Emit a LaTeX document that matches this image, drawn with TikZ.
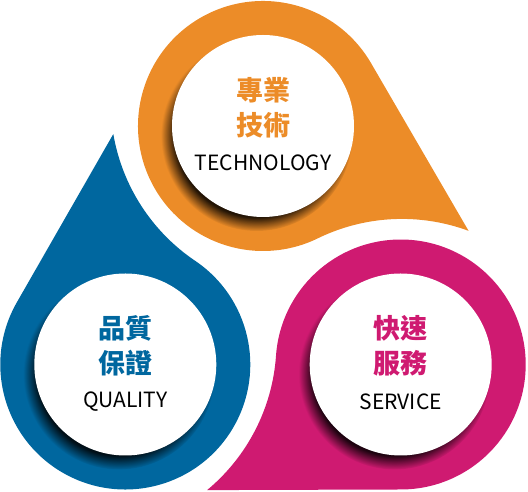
\documentclass[tikz,border=0pt]{standalone}
\usepackage{fontspec}
\setmainfont{Noto Sans CJK TC}
\usepackage{tikz}
\usetikzlibrary{shadows,fadings}
\definecolor{techorange}{HTML}{EC8C28}
\definecolor{qualblue}{HTML}{00679F}
\definecolor{servpink}{HTML}{CF1A71}
\tikzstyle{disc} = [circle, fill=white, minimum size=182pt, inner sep=0pt]
\tikzstyle{zh} = [font=\fontsize{27}{27}\selectfont\bfseries, inner sep=0pt]
\tikzstyle{en} = [font=\fontsize{21}{21}\selectfont, inner sep=0pt]
\tikzset{
  shade/.style ={circular drop shadow={shadow xshift=-6pt, shadow yshift=-9pt,
    shadow scale=1.05, fill=black, opacity=.85}}
}
\newcommand{\drop}[3]{%
  \begin{scope}[shift={(#1:159)}, rotate=#2]
    \fill[#3] (30.2:125) arc[start angle=30.2, end angle=296, radius=125]
      arc[start angle=116, end angle=69.7, radius=192] -- cycle;
  \end{scope}}

\begin{document}
\begin{tikzpicture}[x=1pt, y=1pt]
  \useasboundingbox (0,0) rectangle (528,492);
  \begin{scope}[shift={(263,207)}]
    \drop{90}{0}{techorange}
    \drop{210}{120}{qualblue}
    \drop{330}{240}{servpink}

    \node[disc, shade] (tech) at (90:159) {};
    \node[disc, shade] (qual) at (210:159) {};
    \node[disc, shade] (serv) at (330:159) {};

    \node[zh, text=techorange] at ([yshift=36pt]tech.center) {專業};
    \node[zh, text=techorange] at ([yshift=1pt]tech.center) {技術};
    \node[en] at ([yshift=-37pt]tech.center) {TECHNOLOGY};

    \node[zh, text=qualblue] at ([yshift=36pt]qual.center) {品質};
    \node[zh, text=qualblue] at ([yshift=1pt]qual.center) {保證};
    \node[en] at ([yshift=-37pt]qual.center) {QUALITY};

    \node[zh, text=servpink] at ([yshift=36pt]serv.center) {快速};
    \node[zh, text=servpink] at ([yshift=1pt]serv.center) {服務};
    \node[en] at ([yshift=-37pt]serv.center) {SERVICE};
  \end{scope}
\end{tikzpicture}
\end{document}
